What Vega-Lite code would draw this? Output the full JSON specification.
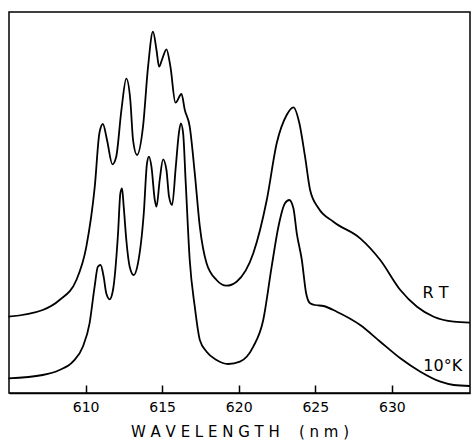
{
  "$schema": "https://vega.github.io/schema/vega-lite/v6.json",
  "width": 461,
  "height": 381,
  "padding": {"left": 9, "top": 12, "right": 2, "bottom": 50},
  "autosize": {"type": "none"},
  "background": "white",
  "config": {"view": {"stroke": "black", "strokeWidth": 1.5}, "font": "DejaVu Sans"},
  "datasets": {
    "spectra": [
      {"series": "RT", "wavelength": 604.96, "intensity": 76.3},
      {"series": "RT", "wavelength": 607.2, "intensity": 83},
      {"series": "RT", "wavelength": 608.3, "intensity": 93},
      {"series": "RT", "wavelength": 609.4, "intensity": 113},
      {"series": "RT", "wavelength": 610.05, "intensity": 146.3},
      {"series": "RT", "wavelength": 610.6, "intensity": 206.3},
      {"series": "RT", "wavelength": 610.9, "intensity": 259.7},
      {"series": "RT", "wavelength": 611.13, "intensity": 269},
      {"series": "RT", "wavelength": 611.4, "intensity": 253},
      {"series": "RT", "wavelength": 611.75, "intensity": 228.7},
      {"series": "RT", "wavelength": 612.0, "intensity": 236.3},
      {"series": "RT", "wavelength": 612.34, "intensity": 283},
      {"series": "RT", "wavelength": 612.66, "intensity": 314.3},
      {"series": "RT", "wavelength": 612.92, "intensity": 293},
      {"series": "RT", "wavelength": 613.1, "intensity": 253},
      {"series": "RT", "wavelength": 613.36, "intensity": 238},
      {"series": "RT", "wavelength": 613.75, "intensity": 266.3},
      {"series": "RT", "wavelength": 614.08, "intensity": 326.3},
      {"series": "RT", "wavelength": 614.4, "intensity": 361.3},
      {"series": "RT", "wavelength": 614.63, "intensity": 343},
      {"series": "RT", "wavelength": 614.8, "intensity": 326.3},
      {"series": "RT", "wavelength": 615.02, "intensity": 334.7},
      {"series": "RT", "wavelength": 615.28, "intensity": 343.7},
      {"series": "RT", "wavelength": 615.54, "intensity": 326.3},
      {"series": "RT", "wavelength": 615.87, "intensity": 290.3},
      {"series": "RT", "wavelength": 616.26, "intensity": 299},
      {"series": "RT", "wavelength": 616.48, "intensity": 283},
      {"series": "RT", "wavelength": 616.8, "intensity": 266.3},
      {"series": "RT", "wavelength": 617.13, "intensity": 219.7},
      {"series": "RT", "wavelength": 617.46, "intensity": 166.3},
      {"series": "RT", "wavelength": 617.9, "intensity": 129.7},
      {"series": "RT", "wavelength": 618.55, "intensity": 113},
      {"series": "RT", "wavelength": 619.2, "intensity": 107.3},
      {"series": "RT", "wavelength": 619.86, "intensity": 111.3},
      {"series": "RT", "wavelength": 620.95, "intensity": 139.7},
      {"series": "RT", "wavelength": 621.83, "intensity": 193},
      {"series": "RT", "wavelength": 622.48, "intensity": 249.7},
      {"series": "RT", "wavelength": 623.13, "intensity": 278},
      {"series": "RT", "wavelength": 623.57, "intensity": 285.7},
      {"series": "RT", "wavelength": 623.96, "intensity": 269.7},
      {"series": "RT", "wavelength": 624.33, "intensity": 236.3},
      {"series": "RT", "wavelength": 624.66, "intensity": 203},
      {"series": "RT", "wavelength": 625.2, "intensity": 185},
      {"series": "RT", "wavelength": 626.18, "intensity": 171.3},
      {"series": "RT", "wavelength": 627.93, "intensity": 154.7},
      {"series": "RT", "wavelength": 629.24, "intensity": 133},
      {"series": "RT", "wavelength": 630.55, "intensity": 103},
      {"series": "RT", "wavelength": 631.64, "intensity": 86.3},
      {"series": "RT", "wavelength": 632.73, "intensity": 76.3},
      {"series": "RT", "wavelength": 634.04, "intensity": 71.3},
      {"series": "RT", "wavelength": 635.1, "intensity": 70.3},
      {"series": "10K", "wavelength": 604.96, "intensity": 14.7},
      {"series": "10K", "wavelength": 607.2, "intensity": 18},
      {"series": "10K", "wavelength": 608.3, "intensity": 23},
      {"series": "10K", "wavelength": 609.17, "intensity": 31.3},
      {"series": "10K", "wavelength": 609.82, "intensity": 46.3},
      {"series": "10K", "wavelength": 610.26, "intensity": 69.7},
      {"series": "10K", "wavelength": 610.59, "intensity": 106.3},
      {"series": "10K", "wavelength": 610.8, "intensity": 126.3},
      {"series": "10K", "wavelength": 610.98, "intensity": 128},
      {"series": "10K", "wavelength": 611.18, "intensity": 116.3},
      {"series": "10K", "wavelength": 611.35, "intensity": 99.7},
      {"series": "10K", "wavelength": 611.57, "intensity": 93.7},
      {"series": "10K", "wavelength": 611.79, "intensity": 103},
      {"series": "10K", "wavelength": 612.12, "intensity": 159.7},
      {"series": "10K", "wavelength": 612.27, "intensity": 199.7},
      {"series": "10K", "wavelength": 612.38, "intensity": 204.7},
      {"series": "10K", "wavelength": 612.49, "intensity": 186.3},
      {"series": "10K", "wavelength": 612.66, "intensity": 153},
      {"series": "10K", "wavelength": 612.88, "intensity": 126.3},
      {"series": "10K", "wavelength": 613.14, "intensity": 118},
      {"series": "10K", "wavelength": 613.42, "intensity": 129.7},
      {"series": "10K", "wavelength": 613.8, "intensity": 179.7},
      {"series": "10K", "wavelength": 614.01, "intensity": 229.7},
      {"series": "10K", "wavelength": 614.14, "intensity": 236.3},
      {"series": "10K", "wavelength": 614.3, "intensity": 226.3},
      {"series": "10K", "wavelength": 614.52, "intensity": 193},
      {"series": "10K", "wavelength": 614.63, "intensity": 186.3},
      {"series": "10K", "wavelength": 614.84, "intensity": 213},
      {"series": "10K", "wavelength": 615.06, "intensity": 233.7},
      {"series": "10K", "wavelength": 615.28, "intensity": 223},
      {"series": "10K", "wavelength": 615.45, "intensity": 196.3},
      {"series": "10K", "wavelength": 615.65, "intensity": 188},
      {"series": "10K", "wavelength": 615.89, "intensity": 226.3},
      {"series": "10K", "wavelength": 616.09, "intensity": 259.7},
      {"series": "10K", "wavelength": 616.22, "intensity": 269.7},
      {"series": "10K", "wavelength": 616.37, "intensity": 259.7},
      {"series": "10K", "wavelength": 616.54, "intensity": 209.7},
      {"series": "10K", "wavelength": 616.8, "intensity": 133},
      {"series": "10K", "wavelength": 617.13, "intensity": 86.3},
      {"series": "10K", "wavelength": 617.46, "intensity": 53},
      {"series": "10K", "wavelength": 617.9, "intensity": 41.3},
      {"series": "10K", "wavelength": 618.55, "intensity": 33},
      {"series": "10K", "wavelength": 619.31, "intensity": 29},
      {"series": "10K", "wavelength": 620.08, "intensity": 31.3},
      {"series": "10K", "wavelength": 620.95, "intensity": 46.3},
      {"series": "10K", "wavelength": 621.6, "intensity": 73},
      {"series": "10K", "wavelength": 622.15, "intensity": 126.3},
      {"series": "10K", "wavelength": 622.59, "intensity": 166.3},
      {"series": "10K", "wavelength": 623.02, "intensity": 189.7},
      {"series": "10K", "wavelength": 623.3, "intensity": 193},
      {"series": "10K", "wavelength": 623.57, "intensity": 184.7},
      {"series": "10K", "wavelength": 623.79, "intensity": 159.7},
      {"series": "10K", "wavelength": 624.12, "intensity": 133},
      {"series": "10K", "wavelength": 624.4, "intensity": 99.7},
      {"series": "10K", "wavelength": 624.66, "intensity": 89.7},
      {"series": "10K", "wavelength": 624.99, "intensity": 88},
      {"series": "10K", "wavelength": 625.53, "intensity": 87},
      {"series": "10K", "wavelength": 626.4, "intensity": 81.3},
      {"series": "10K", "wavelength": 627.93, "intensity": 68},
      {"series": "10K", "wavelength": 629.24, "intensity": 51.3},
      {"series": "10K", "wavelength": 630.55, "intensity": 34.7},
      {"series": "10K", "wavelength": 631.86, "intensity": 21.3},
      {"series": "10K", "wavelength": 633.17, "intensity": 11.3},
      {"series": "10K", "wavelength": 634.04, "intensity": 8},
      {"series": "10K", "wavelength": 635.1, "intensity": 7}
    ],
    "labels": [
      {"label": "R T", "wavelength": 632.0, "intensity": 100},
      {"label": "10°K", "wavelength": 632.05, "intensity": 27}
    ]
  },
  "layer": [
    {
      "data": {"name": "spectra"},
      "mark": {"type": "line", "color": "black", "strokeWidth": 1.8, "interpolate": "monotone"},
      "encoding": {
        "x": {
          "field": "wavelength",
          "type": "quantitative",
          "scale": {"domain": [605, 635.1], "nice": false, "zero": false},
          "axis": {
            "values": [610, 615, 620, 625, 630],
            "grid": false,
            "tickSize": -8,
            "tickColor": "black",
            "tickWidth": 1.5,
            "domainColor": "black",
            "domainWidth": 1.5,
            "labelPadding": 15,
            "labelFontSize": 14,
            "labelColor": "black",
            "labelFont": "DejaVu Sans",
            "title": "W A V E L E N G T H \u00a0 \u00a0( n m )",
            "titleFont": "DejaVu Sans",
            "titleFontSize": 15,
            "titleFontWeight": "normal",
            "titleColor": "black",
            "titlePadding": 10
          }
        },
        "y": {
          "field": "intensity",
          "type": "quantitative",
          "scale": {"domain": [0, 381], "nice": false},
          "axis": null
        },
        "detail": {"field": "series"}
      }
    },
    {
      "data": {"name": "labels"},
      "mark": {"type": "text", "align": "left", "baseline": "middle", "fontSize": 16, "font": "DejaVu Sans", "color": "black"},
      "encoding": {
        "x": {"field": "wavelength", "type": "quantitative"},
        "y": {"field": "intensity", "type": "quantitative"},
        "text": {"field": "label"}
      }
    }
  ]
}
